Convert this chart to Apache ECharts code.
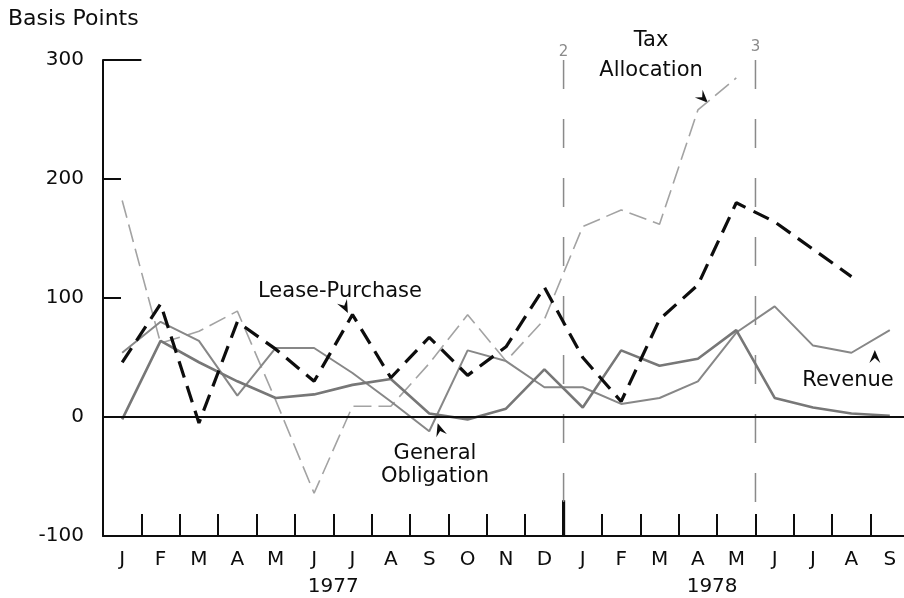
<!DOCTYPE html>
<html><head><meta charset="utf-8">
<script src="https://cdn.jsdelivr.net/npm/echarts@6/dist/echarts.min.js"></script>
<style>html,body{margin:0;padding:0;background:#fff}#c{width:904px;height:598px}</style>
</head><body><div id="c"></div>
<script>
// ---- data ----
const months = ['J','F','M','A','M','J','J','A','S','O','N','D','J','F','M','A','M','J','J','A','S'];
const years = ['1977','1978'];
const leasePurchase     = [46, 95, -5, 80, 57, 30, 86, 33, 67, 35, 59, 109, 50, 13, 82, 111, 180, 164, 141, 118, null];
const taxAllocation     = [182, 62, 72, 89, 14, -64, 9, 9, 45, 86, 47, 82, 160, 174, 162, 258, 285, null, null, null, null];
const generalObligation = [-2, 64, 46, 30, 16, 19, 27, 32, 3, -2, 7, 40, 8, 56, 43, 49, 73, 16, 8, 3, 1];
const revenue           = [54, 80, 64, 18, 58, 58, 37, 13, -12, 56, 47, 25, 25, 11, 16, 30, 71, 93, 60, 54, 73];
const yMin = -100, yMax = 300, yStep = 100;

// ---- styling / annotation placement (in axis units) ----
const FONT = 'DejaVu Sans';
const INK = '#0d0d0d';
const notes = [
  {text: 'Tax\nAllocation', x: 14.28, y: 304, lh: 30},
  {text: 'Lease-Purchase', x: 6.175, y: 105.5, lh: 24},
  {text: 'General\nObligation', x: 8.65, y: -40, lh: 23},
  {text: 'Revenue', x: 19.41, y: 30.5, lh: 24}
];
const yearPos = [{x: 6, y: -143}, {x: 15.87, y: -143}];
const arrows = [
  {x: 15.76, y: 264, dx: 0.7, dy: 0.7},
  {x: 6.38, y: 87.4, dx: 0.45, dy: 0.9},
  {x: 8.72, y: -5.3, dx: -0.3, dy: -0.95},
  {x: 20.11, y: 56.3, dx: 0, dy: -1}
];
const dividers = [{x: 12, label: '2', yEnd: -72, ly: 307}, {x: 17, label: '3', yEnd: -75, ly: 310.5}];

const chart = echarts.init(document.getElementById('c'), null, {renderer: 'canvas'});
const option = {
  animation: false,
  backgroundColor: '#fff',
  title: {text: 'Basis Points', left: 8, top: 8, padding: 0,
    textStyle: {fontFamily: FONT, fontSize: 22, fontWeight: 'normal', color: INK}},
  grid: {left: 103, top: 60, width: 806, height: 476, containLabel: false, outerBoundsMode: 'none'},
  xAxis: [
    {type: 'category', data: months, boundaryGap: true, position: 'bottom',
     axisLine: {show: true, onZero: false, lineStyle: {color: INK, width: 2}},
     axisTick: {show: true, inside: true, length: 22, interval: 0, lineStyle: {color: INK, width: 2}},
     axisLabel: {interval: 0, margin: 14, fontFamily: FONT, fontSize: 20, color: INK},
     splitLine: {show: false}},
    {type: 'value', min: 0, max: months.length, show: false}
  ],
  yAxis: {type: 'value', min: yMin, max: yMax, interval: yStep,
    axisLine: {show: true, lineStyle: {color: INK, width: 2}},
    axisTick: {show: true, inside: true, length: 18, lineStyle: {color: INK, width: 2}},
    axisLabel: {margin: 19, fontFamily: FONT, fontSize: 20, color: INK},
    splitLine: {show: false}},
  series: [
    {name: 'Tax Allocation', type: 'line', data: taxAllocation, symbol: 'none', z: 2,
     lineStyle: {color: '#a3a3a3', width: 1.6, type: [18, 7]}},
    {name: 'Revenue', type: 'line', data: revenue, symbol: 'none', z: 3,
     lineStyle: {color: '#878787', width: 2}},
    {name: 'General Obligation', type: 'line', data: generalObligation, symbol: 'none', z: 3,
     lineStyle: {color: '#777', width: 2.6}},
    {name: 'Lease-Purchase', type: 'line', data: leasePurchase, symbol: 'none', z: 4,
     lineStyle: {color: '#0d0d0d', width: 3.2, type: [17, 9], cap: 'butt'},
     markLine: {silent: true, symbol: 'none', label: {show: false},
       lineStyle: {color: INK, width: 2, type: 'solid'}, data: [{yAxis: 0}]}}
  ]
};
chart.setOption(option);

function P(x, y) {
  return [chart.convertToPixel({xAxisIndex: 1}, x), chart.convertToPixel({yAxisIndex: 0}, y)];
}
const g = [];
// top bracket at 300
{ const a = P(0, yMax), b = P(1, yMax);
  g.push({type: 'line', shape: {x1: a[0], y1: a[1], x2: b[0], y2: b[1]}, style: {stroke: INK, lineWidth: 2}}); }
// year boundary tick
{ const a = P(12, yMin), b = P(12, -70);
  g.push({type: 'line', shape: {x1: a[0], y1: a[1], x2: b[0], y2: b[1]}, style: {stroke: INK, lineWidth: 3.2}}); }
// dashed dividers
dividers.forEach(d => {
  const a = P(d.x, yMax), b = P(d.x, d.yEnd), l = P(d.x, d.ly);
  g.push({type: 'line', shape: {x1: a[0], y1: a[1], x2: b[0], y2: b[1]},
    style: {stroke: '#8a8a8a', lineWidth: 1.5, lineDash: [29, 30]}});
  g.push({type: 'text', x: l[0], y: l[1], style: {text: d.label, align: 'center', verticalAlign: 'middle',
    fontFamily: FONT, fontSize: 15, fill: '#8a8a8a'}});
});
// notes
notes.forEach(n => {
  const p = P(n.x, n.y);
  g.push({type: 'text', x: p[0], y: p[1], style: {text: n.text, align: 'center', verticalAlign: 'middle',
    fontFamily: FONT, fontSize: 21, lineHeight: n.lh, fill: INK}});
});
years.forEach((yr, i) => {
  const p = P(yearPos[i].x, yearPos[i].y);
  g.push({type: 'text', x: p[0], y: p[1], style: {text: yr, align: 'center', verticalAlign: 'middle',
    fontFamily: FONT, fontSize: 20, fill: INK}});
});
// arrowheads
arrows.forEach(a => {
  const t = P(a.x, a.y);
  const len = Math.hypot(a.dx, a.dy), ux = a.dx / len, uy = a.dy / len;
  const L = 13, W = 5.5, px = -uy, py = ux;
  const bx = t[0] - ux * L, by = t[1] - uy * L;
  const nx = t[0] - ux * L * 0.62, ny = t[1] - uy * L * 0.62;
  g.push({type: 'polygon', shape: {points: [[t[0], t[1]], [bx + px * W, by + py * W], [nx, ny], [bx - px * W, by - py * W]]},
    style: {fill: INK}});
});
chart.setOption({graphic: g});
</script></body></html>
